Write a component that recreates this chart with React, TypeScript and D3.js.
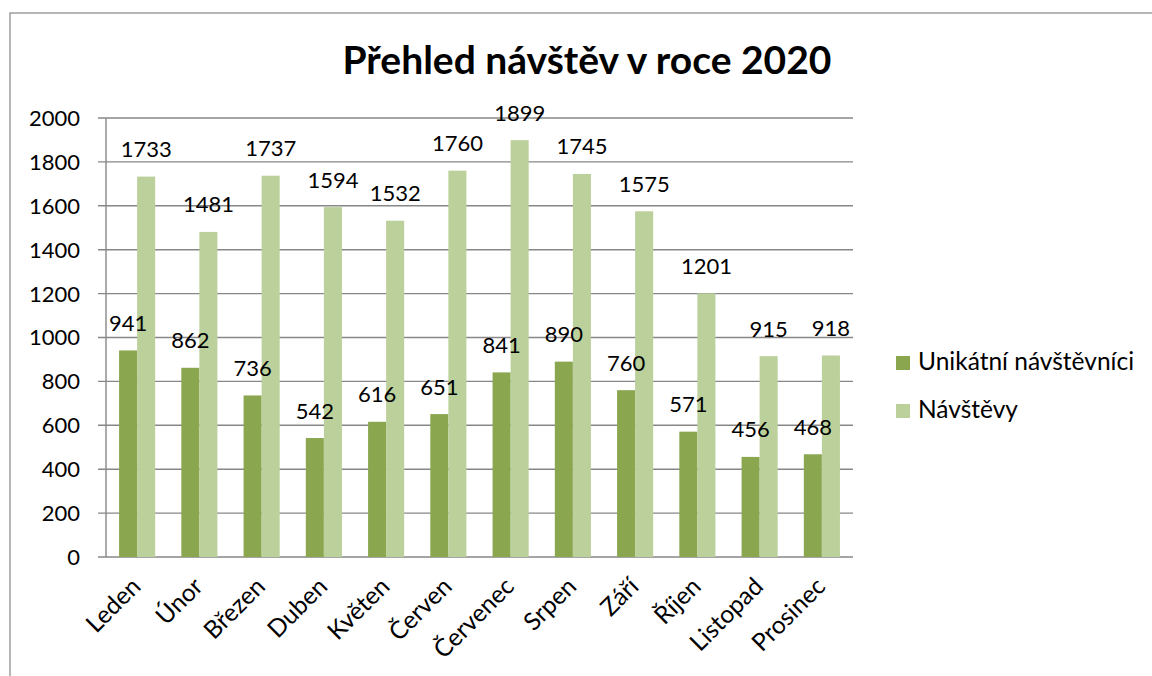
import React from 'react';
import * as d3 from 'd3';

const months = ['Leden', 'Únor', 'Březen', 'Duben', 'Květen', 'Červen', 'Červenec', 'Srpen', 'Září', 'Říjen', 'Listopad', 'Prosinec'];
const unikatni = [941, 862, 736, 542, 616, 651, 841, 890, 760, 571, 456, 468];
const navstevy = [1733, 1481, 1737, 1594, 1532, 1760, 1899, 1745, 1575, 1201, 915, 918];
const yTicks = [0, 200, 400, 600, 800, 1000, 1200, 1400, 1600, 1800, 2000];
const seriesNames = ['Unikátní návštěvníci', 'Návštěvy'];
const seriesColors = ['#8aa64f', '#bbd09a'];
const title = 'Přehled návštěv v roce 2020';

const W = 1152;
const H = 676;
const FONT = 'Lato, "Open Sans", sans-serif';
const GRID = '#878787';

export default function App() {
  const left = 106, right = 853, top = 118, bottom = 557;
  const x = d3.scaleBand<string>().domain(months).range([left, right]).paddingInner(0.42).paddingOuter(0.21);
  const xs = d3.scaleBand<number>().domain([0, 1]).range([0, x.bandwidth()]);
  const y = d3.scaleLinear().domain([0, 2000]).range([bottom, top]);
  const series = [unikatni, navstevy];
  const bw = xs.bandwidth();
  const bx = (si: number, i: number) => (x(months[i]) as number) + (xs(si) as number);

  return (
    <svg width={W} height={H} style={{ position: 'absolute', left: 0, top: 0, background: '#fff' }} fontFamily={FONT}>
      <rect x={0} y={0} width={W} height={H} fill="#fff" />
      <rect x={10} y={13} width={1300} height={800} fill="none" stroke={GRID} strokeWidth={1.2} />
      <text x={587} y={74} textAnchor="middle" fontSize={39} fontWeight="bold" fill="#000">{title}</text>

      {yTicks.map((t) => (
        <g key={t}>
          <line x1={98} x2={right} y1={y(t)} y2={y(t)} stroke={GRID} strokeWidth={1.4} />
          <text x={80} y={y(t)} dy="0.36em" textAnchor="end" fontSize={22} fill="#000">{t}</text>
        </g>
      ))}
      <line x1={left} x2={left} y1={top} y2={bottom} stroke={GRID} strokeWidth={1.4} />

      {series.map((vals, si) =>
        vals.map((v, i) => (
          <rect key={`b${si}-${i}`} x={bx(si, i)} y={y(v)} width={bw} height={bottom - y(v)} fill={seriesColors[si]} />
        ))
      )}
      {series.map((vals, si) =>
        vals.map((v, i) => (
          <text key={`l${si}-${i}`} x={bx(si, i) + bw / 2} y={y(v) - 19.5} textAnchor="middle" fontSize={22} fill="#000">{v}</text>
        ))
      )}

      {months.map((m) => {
        const cx = (x(m) as number) + x.bandwidth() / 2;
        const ax = cx + 5, ay = bottom + 31;
        return (
          <text key={m} x={ax} y={ay} textAnchor="end" fontSize={24.5} fill="#000" transform={`rotate(-45 ${ax} ${ay})`}>{m}</text>
        );
      })}

      {seriesNames.map((n, i) => (
        <g key={n} transform={`translate(896, ${356 + i * 48})`}>
          <rect x={0} y={0} width={14} height={14} fill={seriesColors[i]} />
          <text x={22} y={14} fontSize={24.5} fill="#000">{n}</text>
        </g>
      ))}
    </svg>
  );
}
